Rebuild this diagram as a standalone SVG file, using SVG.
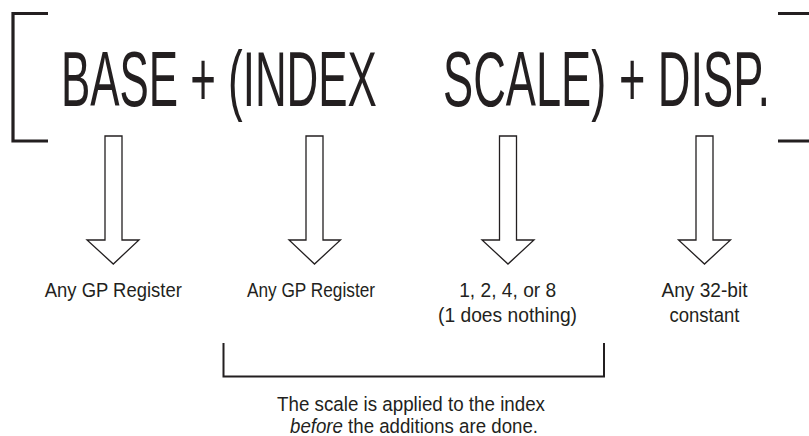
<svg xmlns="http://www.w3.org/2000/svg" width="809" height="436" viewBox="0 0 809 436">
<style>
.big{font-family:"Liberation Sans",Arial,sans-serif;font-size:78px;fill:#231f20}
.lbl{font-family:"Liberation Sans Narrow","Liberation Sans",Arial,sans-serif;font-size:20.5px;fill:#231f20;text-anchor:middle}
.arrow{fill:#fff;stroke:#231f20;stroke-width:1.3;stroke-linejoin:miter}
.br{fill:none;stroke:#231f20;stroke-width:3.2}
</style>
<rect width="809" height="436" fill="#fff"/>
<g id="formula">
<g transform="translate(61,106) scale(0.565,1)"><text class="big" x="0" y="0" textLength="559" lengthAdjust="spacingAndGlyphs">BASE + (INDEX</text></g>
<g transform="translate(443,106) scale(0.565,1)"><text class="big" x="0" y="0" textLength="579" lengthAdjust="spacingAndGlyphs">SCALE) + DISP.</text></g>
</g>
<g id="brackets">
<path class="br" d="M48,13.5 H13 V141 H48"/>
<path class="br" d="M778,13.5 H809 M778,141 H809"/>
</g>
<g id="connectors">
<path class="arrow" d="M105,136 H122 V240 H139 L113.3,264 L87,240 H105 Z"/>
<path class="arrow" d="M306,136 H323 V240 H340.5 L314.5,264 L289,240 H306 Z"/>
<path class="arrow" d="M499.5,136 H516.5 V240 H534 L508,264 L482,240 H499.5 Z"/>
<path class="arrow" d="M696,136 H713 V240 H730.5 L704.5,264 L678.5,240 H696 Z"/>
<path fill="none" stroke="#231f20" stroke-width="2" d="M223.5,343 V376.5 H604 V343"/>
</g>
<g id="base-label"><text class="lbl" x="113.3" y="297" textLength="137" lengthAdjust="spacingAndGlyphs">Any GP Register</text></g>
<g id="index-label"><text class="lbl" x="311" y="297" textLength="128" lengthAdjust="spacingAndGlyphs">Any GP Register</text></g>
<g id="scale-label">
<text class="lbl" x="507.7" y="297" textLength="97" lengthAdjust="spacingAndGlyphs">1, 2, 4, or 8</text>
<text class="lbl" x="507.5" y="322" textLength="139" lengthAdjust="spacingAndGlyphs">(1 does nothing)</text>
</g>
<g id="disp-label">
<text class="lbl" x="704.5" y="297" textLength="86" lengthAdjust="spacingAndGlyphs">Any 32-bit</text>
<text class="lbl" x="704.5" y="322" textLength="70" lengthAdjust="spacingAndGlyphs">constant</text>
</g>
<g id="note">
<text class="lbl" x="411" y="411" textLength="268" lengthAdjust="spacingAndGlyphs">The scale is applied to the index</text>
<text class="lbl" x="414" y="433" textLength="248" lengthAdjust="spacingAndGlyphs"><tspan font-style="italic">before</tspan> the additions are done.</text>
</g>
</svg>
